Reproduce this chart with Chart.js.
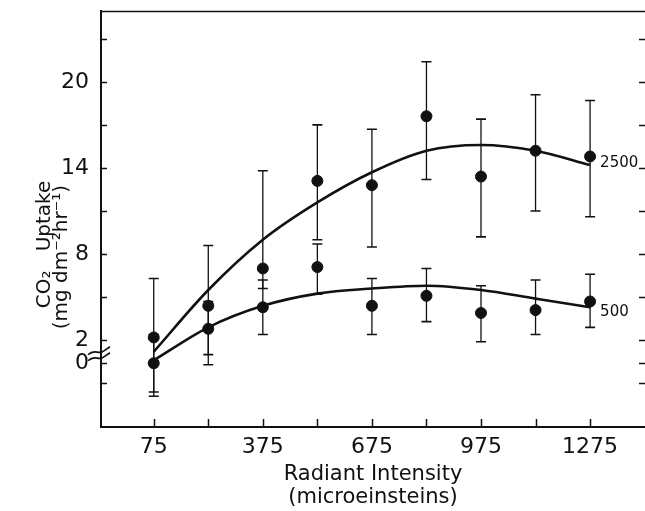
<!DOCTYPE html>
<html lang="en">
<head>
<meta charset="UTF-8">
<title>CO2 Uptake vs Radiant Intensity</title>
<script src="https://cdn.jsdelivr.net/npm/chart.js"></script>
<style>
  html, body { margin: 0; padding: 0; background: #fff; }
  #wrap { width: 645px; height: 511px; }
</style>
</head>
<body>
<div id="wrap"><canvas id="myChart"></canvas></div>
<script>
// values (y is in plotted-axis units, the axis is broken below 2)
const intensity = [75, 225, 375, 525, 675, 825, 975, 1125, 1275];

const uptake2500 = [2.2, 4.4, 7.0, 13.1, 12.8, 17.6, 13.4, 15.2, 14.8];
const low2500    = [-1.9, 0.3, 5.6, 9.0, 8.5, 13.2, 9.2, 11.0, 10.6];
const high2500   = [6.3, 8.6, 13.8, 17.0, 16.7, 21.4, 17.4, 19.1, 18.7];
const curve2500  = [1.2, 5.5, 9.0, 11.6, 13.7, 15.2, 15.6, 15.2, 14.2];

const uptake500 = [0.4, 2.8, 4.3, 7.1, 4.4, 5.1, 3.9, 4.1, 4.7];
const low500    = [-1.6, 1.0, 2.4, 5.2, 2.4, 3.3, 1.9, 2.4, 2.9];
const high500   = [2.4, 4.7, 6.2, 8.7, 6.3, 7.0, 5.8, 6.2, 6.6];
const curve500  = [0.6, 2.9, 4.4, 5.25, 5.6, 5.8, 5.5, 4.9, 4.3];

const seriesNames = ['2500', '500'];

const xTicks = [75, 225, 375, 525, 675, 825, 975, 1125, 1275];
const xTickLabels = ['75', null, '375', null, '675', null, '975', null, '1275'];
const yTicks = [-1, 0.4, 2, 5, 8, 11, 14, 17, 20, 23];
const yTickLabels = [null, '0', '2', null, '8', null, '14', null, '20', null];

const ink = '#111';
const fam = "'DejaVu Sans', sans-serif";

const pts = (ys) => intensity.map((x, i) => ({ x: x, y: ys[i] }));

// error bars, inward tick marks, top frame line, axis break, curve labels
const decor = {
    id: 'decor',
    beforeDatasetsDraw(chart) {
        const ctx = chart.ctx;
        const xs = chart.scales.x, ys = chart.scales.y;
        ctx.save();
        ctx.strokeStyle = ink;
        const bars = [[low2500, high2500], [low500, high500]];
        bars.forEach(([lo, hi]) => {
            intensity.forEach((v, i) => {
                const px = xs.getPixelForValue(v);
                const a = ys.getPixelForValue(lo[i]);
                const b = ys.getPixelForValue(hi[i]);
                ctx.lineWidth = 1.3;
                ctx.beginPath();
                ctx.moveTo(px, a); ctx.lineTo(px, b);
                ctx.stroke();
                ctx.lineWidth = 1.6;
                ctx.beginPath();
                ctx.moveTo(px - 5, a); ctx.lineTo(px + 5, a);
                ctx.moveTo(px - 5, b); ctx.lineTo(px + 5, b);
                ctx.stroke();
            });
        });
        ctx.restore();
    },
    afterDraw(chart) {
        const ctx = chart.ctx;
        const area = chart.chartArea;
        const xs = chart.scales.x, ys = chart.scales.y;
        ctx.save();
        ctx.strokeStyle = ink;
        ctx.lineWidth = 1.5;
        ctx.beginPath();
        // top frame
        ctx.moveTo(area.left, area.top + 0.5);
        ctx.lineTo(area.right, area.top + 0.5);
        // inward ticks
        xTicks.forEach(v => {
            const px = Math.round(xs.getPixelForValue(v)) + 0.5;
            ctx.moveTo(px, area.bottom);
            ctx.lineTo(px, area.bottom - 8);
        });
        yTicks.forEach(v => {
            const py = Math.round(ys.getPixelForValue(v)) + 0.5;
            ctx.moveTo(area.left, py);
            ctx.lineTo(area.left + 6, py);
            ctx.moveTo(area.right, py);
            ctx.lineTo(area.right - 6, py);
        });
        ctx.stroke();

        // axis break marks
        const yb = ys.getPixelForValue(1.2);
        ctx.lineWidth = 1.6;
        [0, 6].forEach(d => {
            const y0 = yb + d;
            ctx.beginPath();
            ctx.moveTo(area.left - 13, y0 + 3);
            ctx.bezierCurveTo(area.left - 6, y0 - 4, area.left - 2, y0 + 4, area.left + 3, y0 - 1);
            ctx.lineTo(area.left + 9, y0 - 5);
            ctx.stroke();
        });

        // curve labels
        ctx.fillStyle = ink;
        ctx.font = '15px ' + fam;
        ctx.textBaseline = 'middle';
        ctx.textAlign = 'left';
        const last = intensity.length - 1;
        const lx = xs.getPixelForValue(intensity[last]) + 10;
        ctx.fillText(seriesNames[0], lx, ys.getPixelForValue(curve2500[last]) - 2);
        ctx.fillText(seriesNames[1], lx, ys.getPixelForValue(curve500[last]) + 5);
        ctx.restore();
    }
};

const ctx = document.getElementById('myChart').getContext('2d');
const myChart = new Chart(ctx, {
    type: 'scatter',
    data: {
        datasets: [
            {
                type: 'line', label: 'fit 2500', data: pts(curve2500),
                borderColor: ink, borderWidth: 2.6, pointRadius: 0,
                cubicInterpolationMode: 'monotone', fill: false
            },
            {
                type: 'line', label: 'fit 500', data: pts(curve500),
                borderColor: ink, borderWidth: 2.6, pointRadius: 0,
                cubicInterpolationMode: 'monotone', fill: false
            },
            {
                label: seriesNames[0], data: pts(uptake2500),
                backgroundColor: ink, borderColor: ink, pointRadius: 5.5
            },
            {
                label: seriesNames[1], data: pts(uptake500),
                backgroundColor: ink, borderColor: ink, pointRadius: 5.5
            }
        ]
    },
    options: {
        responsive: true,
        maintainAspectRatio: false,
        animation: false,
        layout: { autoPadding: false, padding: { top: 11, right: 0, left: 0, bottom: 0 } },
        plugins: {
            legend: { display: false },
            tooltip: { enabled: false }
        },
        scales: {
            x: {
                type: 'linear',
                min: -70, max: 1426,
                afterBuildTicks: s => { s.ticks = xTicks.map(v => ({ value: v })); },
                afterFit: s => { s.height = 84; s.paddingLeft = 0; s.paddingRight = 0; },
                grid: { display: false, drawTicks: false },
                border: { display: true, color: ink, width: 2 },
                ticks: {
                    autoSkip: false, maxRotation: 0, padding: 7,
                    color: ink, font: { family: fam, size: 22 },
                    callback: (v, i) => xTickLabels[i]
                },
                title: {
                    display: true,
                    text: ['Radiant Intensity', '(microeinsteins)'],
                    color: ink,
                    font: { family: fam, size: 21, lineHeight: 1.1 },
                    padding: { top: 0, bottom: 2 }
                }
            },
            y: {
                min: -4.04, max: 24.93,
                afterBuildTicks: s => { s.ticks = yTicks.map(v => ({ value: v })); },
                afterFit: s => { s.width = 101; s.paddingTop = 0; s.paddingBottom = 0; },
                grid: { display: false, drawTicks: false },
                border: { display: true, color: ink, width: 2 },
                ticks: {
                    autoSkip: false, padding: 12,
                    color: ink, font: { family: fam, size: 22 },
                    callback: (v, i) => yTickLabels[i]
                },
                title: {
                    display: true,
                    text: ['CO\u2082   Uptake        ', '(mg dm\u207B\u00B2hr\u207B\u00B9)            '],
                    color: ink,
                    font: { family: fam, size: 20, lineHeight: 0.85 },
                    padding: { top: 36, bottom: 0 }
                }
            }
        }
    },
    plugins: [decor]
});
</script>
</body>
</html>
